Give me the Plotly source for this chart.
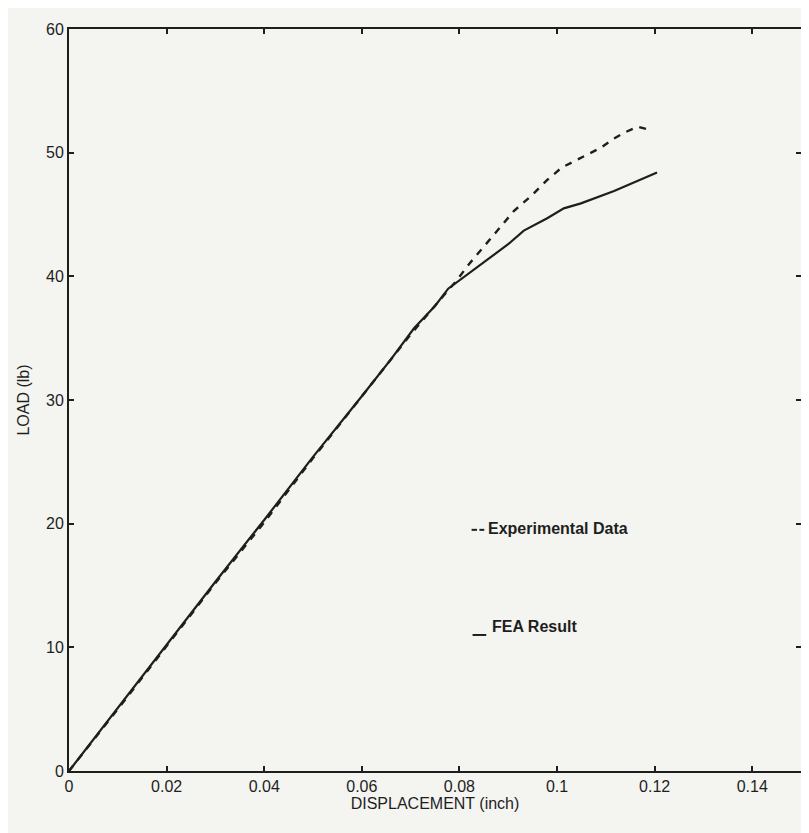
import plotly.graph_objects as go

# FEA result (solid line)
fea_x = [0.0, 0.01, 0.02, 0.03, 0.04, 0.05, 0.06, 0.066, 0.0707, 0.075, 0.0777, 0.0844, 0.09, 0.0932, 0.098, 0.1014, 0.1049, 0.1117, 0.1205]
fea_y = [0.0, 5.1, 10.2, 15.3, 20.3, 25.4, 30.3, 33.3, 35.8, 37.6, 39.0, 41.0, 42.6, 43.7, 44.7, 45.5, 45.9, 46.9, 48.4]

# Experimental data (dashed line)
exp_x = [0.0, 0.01, 0.02, 0.03, 0.04, 0.045, 0.05, 0.06, 0.07, 0.0758, 0.0793, 0.082, 0.0848, 0.0879, 0.0912, 0.0947, 0.098, 0.101, 0.105, 0.109, 0.1115, 0.1137, 0.1165, 0.1185]
exp_y = [0.0, 5.0, 10.1, 15.2, 20.1, 22.7, 25.3, 30.3, 35.3, 38.0, 39.6, 41.0, 42.3, 43.8, 45.3, 46.5, 47.8, 48.8, 49.6, 50.4, 51.1, 51.6, 52.1, 51.9]

x_ticks = [0, 0.02, 0.04, 0.06, 0.08, 0.1, 0.12, 0.14]
x_tick_labels = ["0", "0.02", "0.04", "0.06", "0.08", "0.1", "0.12", "0.14"]
y_ticks = [0, 10, 20, 30, 40, 50, 60]
y_tick_labels = ["0", "10", "20", "30", "40", "50", "60"]

legend_labels = ["Experimental Data", "FEA Result"]

BG = "#f4f4f0"
INK = "#1e1e1e"
FONT = "Liberation Sans, Arial, sans-serif"

fig = go.Figure()
fig.add_trace(go.Scatter(x=fea_x, y=fea_y, mode="lines", name=legend_labels[1],
                         line=dict(color=INK, width=2.2), showlegend=False))
fig.add_trace(go.Scatter(x=exp_x, y=exp_y, mode="lines", name=legend_labels[0],
                         line=dict(color=INK, width=2.4, dash="7px,7px"), showlegend=False))

axis_common = dict(showline=True, linecolor=INK, linewidth=2, mirror="ticks",
                   ticks="inside", ticklen=5, tickwidth=1.5, tickcolor=INK,
                   showgrid=False, zeroline=False, automargin=False,
                   tickfont=dict(family=FONT, size=16, color=INK))

fig.update_xaxes(range=[0, 0.15], tickvals=x_ticks, ticktext=x_tick_labels,
                 title=dict(text="DISPLACEMENT (inch)", standoff=3,
                            font=dict(family=FONT, size=16, color=INK)),
                 **axis_common)
fig.update_yaxes(range=[0, 60], tickvals=y_ticks, ticktext=y_tick_labels,
                 title=dict(text="LOAD (lb)", standoff=12,
                            font=dict(family=FONT, size=16, color=INK)),
                 **axis_common)

# Legend-like annotations inside the plot
fig.add_annotation(x=0.0855, y=19.6, xref="x", yref="y", text="<b>" + legend_labels[0] + "</b>",
                   showarrow=False, xanchor="left", yanchor="middle",
                   font=dict(family=FONT, size=16, color=INK))
fig.add_annotation(x=0.0862, y=11.7, xref="x", yref="y", text="<b>" + legend_labels[1] + "</b>",
                   showarrow=False, xanchor="left", yanchor="middle",
                   font=dict(family=FONT, size=16, color=INK))
fig.add_shape(type="line", x0=0.0825, x1=0.0836, y0=19.5, y1=19.5, xref="x", yref="y",
              line=dict(color=INK, width=2))
fig.add_shape(type="line", x0=0.0841, x1=0.0851, y0=19.5, y1=19.5, xref="x", yref="y",
              line=dict(color=INK, width=2))
fig.add_shape(type="line", x0=0.0827, x1=0.0855, y0=11.0, y1=11.0, xref="x", yref="y",
              line=dict(color=INK, width=2))

fig.update_layout(width=809, height=833,
                  margin=dict(l=61, r=16, t=21, b=70),
                  paper_bgcolor=BG, plot_bgcolor=BG,
                  font=dict(family=FONT, color=INK))

fig.write_html("out.html")
